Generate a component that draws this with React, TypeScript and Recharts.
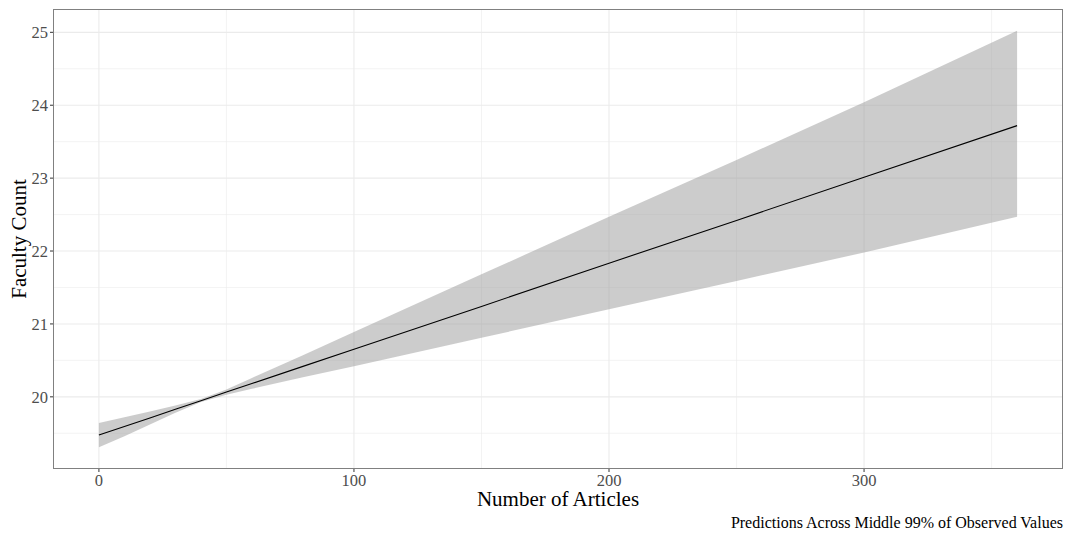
import React from "react";
import {
  ComposedChart,
  Area,
  Line,
  XAxis,
  YAxis,
  CartesianGrid,
} from "recharts";

// predicted faculty count by article count, with confidence band
const articles = [0, 10, 20, 30, 40, 50, 60, 80, 100, 150, 200, 250, 300, 360];
const predicted = [19.475, 19.593, 19.711, 19.829, 19.947, 20.065, 20.182, 20.418, 20.654, 21.24, 21.833, 22.42, 23.012, 23.72];
const lower = [19.31, 19.46, 19.62, 19.78, 19.93, 20.03, 20.11, 20.27, 20.42, 20.81, 21.2, 21.59, 21.98, 22.47];
const upper = [19.64, 19.72, 19.8, 19.88, 19.97, 20.1, 20.26, 20.57, 20.89, 21.68, 22.47, 23.25, 24.04, 25.02];

const xTicks = [0, 100, 200, 300];
const xMinor = [50, 150, 250, 350];
const yTicks = [20, 21, 22, 23, 24, 25];
const yMinor = [19.5, 20.5, 21.5, 22.5, 23.5, 24.5];

const data = articles.map((a, i) => ({
  x: a,
  fit: predicted[i],
  band: [lower[i], upper[i]],
}));

const W = 1069;
const H = 536;
const serif = "'Liberation Serif', 'Times New Roman', serif";
const grid = "#ebebeb";
const tickStyle = { fontSize: 16.5, fill: "#4d4d4d", fontFamily: serif };

export default function App() {
  const plot = { left: 53, top: 9, right: 1063, bottom: 469 };
  return (
    <div style={{ position: "absolute", left: 0, top: 0, width: W, height: H, background: "#fff", fontFamily: serif }}>
      <ComposedChart
        width={W}
        height={H}
        data={data}
        margin={{ top: plot.top, right: W - plot.right, bottom: 37, left: 0 }}
      >
        {/* minor then major grid, both under the band */}
        <CartesianGrid
          horizontalValues={yMinor}
          verticalValues={xMinor}
          stroke={grid}
          strokeWidth={0.6}
        />
        <CartesianGrid
          horizontalValues={yTicks}
          verticalValues={xTicks}
          stroke={grid}
          strokeWidth={1.1}
        />
        <XAxis
          dataKey="x"
          type="number"
          domain={[-18, 378]}
          ticks={xTicks}
          allowDataOverflow
          axisLine={false}
          tickLine={{ stroke: "#333" }}
          tickSize={3}
          height={30}
          tick={tickStyle}
        />
        <YAxis
          type="number"
          domain={[19.01, 25.32]}
          ticks={yTicks}
          allowDataOverflow
          axisLine={false}
          tickLine={{ stroke: "#333" }}
          tickSize={3}
          width={53}
          tick={tickStyle}
        />
        <Area
          dataKey="band"
          type="linear"
          stroke="none"
          fill="#999999"
          fillOpacity={0.5}
          isAnimationActive={false}
        />
        <Line
          dataKey="fit"
          type="linear"
          stroke="#000"
          strokeWidth={1.1}
          dot={false}
          activeDot={false}
          isAnimationActive={false}
        />
      </ComposedChart>
      {/* panel border */}
      <div
        style={{
          position: "absolute",
          left: plot.left,
          top: plot.top,
          width: plot.right - plot.left,
          height: plot.bottom - plot.top,
          border: "1px solid #808080",
          boxSizing: "border-box",
          pointerEvents: "none",
        }}
      />
      <div
        style={{
          position: "absolute",
          left: plot.left,
          width: plot.right - plot.left,
          top: 494,
          lineHeight: "11px",
          textAlign: "center",
          fontSize: 21,
          color: "#000",
        }}
      >
        Number of Articles
      </div>
      <div
        style={{
          position: "absolute",
          left: 19,
          top: (plot.top + plot.bottom) / 2,
          transform: "translate(-50%, -50%) rotate(-90deg)",
          fontSize: 21,
          lineHeight: "21px",
          whiteSpace: "nowrap",
          color: "#000",
        }}
      >
        Faculty Count
      </div>
      <div
        style={{
          position: "absolute",
          right: W - plot.right,
          top: 515,
          fontSize: 16,
          lineHeight: "16px",
          whiteSpace: "nowrap",
          color: "#000",
        }}
      >
        Predictions Across Middle 99% of Observed Values
      </div>
    </div>
  );
}
